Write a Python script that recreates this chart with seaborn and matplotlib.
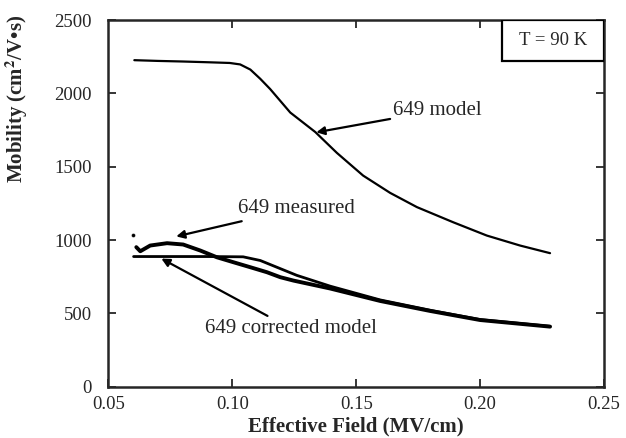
import numpy as np
import pandas as pd
import matplotlib
matplotlib.use("Agg")
import matplotlib.pyplot as plt
from matplotlib.patches import Rectangle
import seaborn as sns

# ---- data ------------------------------------------------------------------
field_model = [0.0605, 0.070, 0.080, 0.090, 0.099, 0.1032, 0.1073, 0.1113, 0.1153,
               0.1234, 0.1335, 0.1422, 0.1528, 0.1637, 0.1745, 0.1891, 0.2027,
               0.2161, 0.2282]
mob_model   = [2227, 2222, 2218, 2213, 2208, 2198, 2163, 2100, 2030,
               1870, 1737, 1595, 1440, 1322, 1225, 1122, 1031,
               963, 911]

field_meas = [0.0613, 0.0629, 0.0669, 0.0737, 0.0802, 0.0871, 0.0938, 0.1005,
              0.1073, 0.114, 0.1194, 0.1247, 0.1395, 0.1597, 0.1798, 0.2, 0.2282]
mob_meas   = [952, 924, 963, 979, 970, 929, 883, 849,
              815, 781, 747, 724, 670, 585, 517, 455, 410]

field_corr = [0.0602, 0.070, 0.080, 0.090, 0.1044, 0.1113, 0.118, 0.126,
              0.1395, 0.1597, 0.1798, 0.2, 0.2282]
mob_corr   = [888, 888, 888, 888, 886, 861, 815, 760,
              686, 592, 522, 458, 412]

stray_field = [0.0598]
stray_mob   = [1036]

x_ticks = [0.05, 0.10, 0.15, 0.20, 0.25]
x_ticklabels = ["0.05", "0.10", "0.15", "0.20", "0.25"]
y_ticks = [0, 500, 1000, 1500, 2000, 2500]

# ---- plot ------------------------------------------------------------------
sns.set_style("ticks")
plt.rcParams['font.family'] = ['Liberation Serif', 'DejaVu Serif']
plt.rcParams['mathtext.fontset'] = 'stix'

fig, ax = plt.subplots(figsize=(6.26, 4.38), dpi=100)

sns.lineplot(x=field_model, y=mob_model, color='black', linewidth=1.6, ax=ax)
sns.lineplot(x=field_corr, y=mob_corr, color='black', linewidth=2.0, ax=ax)
sns.lineplot(x=field_meas, y=mob_meas, color='black', linewidth=2.8, ax=ax)
sns.scatterplot(x=stray_field, y=stray_mob, color='black', s=8, ax=ax)

ax.set_xlim(0.05, 0.25)
ax.set_ylim(0, 2500)
ax.set_xticks(x_ticks)
ax.set_xticklabels(x_ticklabels)
ax.set_yticks(y_ticks)
ax.tick_params(direction='in', length=6, width=1.3, top=True, right=True,
               labelsize=13.5, pad=7)
ax.tick_params(axis='y', pad=12)
# top/right ticks only on interior positions, like the reference
for t in ax.xaxis.get_major_ticks():
    if t.get_loc() in (0.05, 0.25):
        t.tick2line.set_visible(False)
for t in ax.yaxis.get_major_ticks():
    if t.get_loc() in (0, 2500):
        t.tick2line.set_visible(False)
for s in ax.spines.values():
    s.set_linewidth(1.8)

ax.set_xlabel("Effective Field (MV/cm)", fontsize=15, fontweight='bold',
              labelpad=2)
ax.set_ylabel("Mobility (cm$^\\mathbf{2}$/V\u2022s)", fontsize=15,
              fontweight='bold')
ax.yaxis.set_label_coords(-0.158, 0.785)

arrow = dict(arrowstyle='-|>', color='black', lw=1.6, mutation_scale=12,
             shrinkA=0, shrinkB=0)
ax.annotate("649 model", xy=(0.1339, 1735), xytext=(0.1650, 1885),
            fontsize=15, va='center', ha='left', arrowprops=arrow)
ax.annotate("649 measured", xy=(0.0774, 1025), xytext=(0.1024, 1216),
            fontsize=15, va='center', ha='left', arrowprops=arrow)
ax.annotate("649 corrected model", xy=(0.0714, 874), xytext=(0.0891, 396),
            fontsize=15, va='center', ha='left', arrowprops=arrow)

# "T = 90 K" box attached to the top-right corner
ax.add_patch(Rectangle((0.795, 0.888), 0.205, 0.112, transform=ax.transAxes,
                       fc='white', ec='black', lw=1.6, zorder=3))
ax.text(0.8975, 0.944, "T = 90 K", transform=ax.transAxes, fontsize=13.5,
        ha='center', va='center', zorder=4)

plt.subplots_adjust(left=0.173, right=0.965, bottom=0.117, top=0.954)
plt.savefig("out.png", dpi=100)
plt.close()
